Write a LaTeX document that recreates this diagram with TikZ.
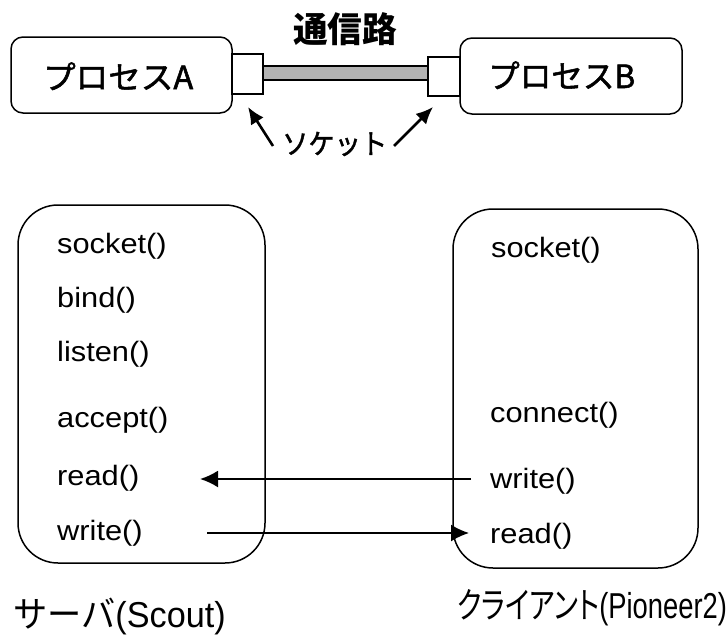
\documentclass[tikz,border=0pt]{standalone}
\usepackage{fontspec}
\usepackage{graphicx}
\usetikzlibrary{arrows.meta}
\setmainfont{Liberation Sans}
\newfontfamily\jp{Noto Sans CJK JP}
\newfontfamily\jpm{Noto Sans CJK JP}[FakeBold=1.6]
\newfontfamily\jpp{Noto Sans CJK JP}[RawFeature=+palt]
\newcommand{\fs}[1]{\scalebox{1.1}[1]{#1}}
\begin{document}
\begin{tikzpicture}[x=1pt,y=-1pt,
  box/.style={draw, line width=1.5pt, rounded corners=12pt, inner sep=0pt},
  bigbox/.style={draw, line width=1.5pt, rounded corners=40pt, inner sep=0pt},
  sock/.style={draw, line width=1.5pt, fill=white, inner sep=0pt},
  chan/.style={draw, line width=1.2pt, fill=black!30, inner sep=0pt},
  fn/.style={anchor=base west, inner sep=0pt, font=\fontsize{28}{28}\selectfont},
  lbl/.style={anchor=base west, inner sep=0pt},
  msg/.style={line width=2.2pt, -{Latex[length=18pt,width=17pt]}},
  ptr/.style={line width=2.6pt, -{Latex[length=17pt,width=15pt]}}]
\useasboundingbox (0,0) rectangle (728,637);

% top row
\node[box, minimum width=221pt, minimum height=76pt] (pa) at (121.5,75) {};
\node[box, minimum width=222pt, minimum height=76pt] (pb) at (571,76) {};
\node[chan, minimum width=165pt, minimum height=14pt] (bar) at (345.5,73) {};
\node[sock, minimum width=31pt, minimum height=40pt] (sa) at (247.5,74) {};
\node[sock, minimum width=32pt, minimum height=39pt] (sb) at (444,76.5) {};

\node[lbl, font=\jpm\fontsize{32}{32}\selectfont] (ta) at (43,89) {\resizebox{150pt}{\height}{プロセスA}};
\node[lbl, font=\jpm\fontsize{32}{32}\selectfont] (tb) at (488,88) {\resizebox{147pt}{\height}{プロセスB}};
\node[lbl, font=\jp\bfseries\fontsize{35}{35}\selectfont] (tc) at (293,42) {\resizebox{104pt}{\height}{通信路}};
\node[lbl, font=\jpm\fontsize{28}{28}\selectfont] (ts) at (282,154) {\resizebox{105pt}{\height}{ソケット}};

\coordinate (p1) at (273,146);
\coordinate (p1e) at (248,107);
\coordinate (p2) at (394,146);
\coordinate (p2e) at (433,107);
\draw[ptr] (p1) -- (p1e);
\draw[ptr] (p2) -- (p2e);

% bottom: server and client
\node[bigbox, minimum width=247pt, minimum height=358pt] (srv) at (141.5,384) {};
\node[bigbox, minimum width=245pt, minimum height=359pt] (cli) at (575.5,388.5) {};

\node[fn] (s1) at (57,253) {\fs{socket()}};
\node[fn] (s2) at (57,307.5) {\fs{bind()}};
\node[fn] (s3) at (57,361) {\fs{listen()}};
\node[fn] (s4) at (57,427) {\fs{accept()}};
\node[fn] (s5) at (57,485.5) {\fs{read()}};
\node[fn] (s6) at (57,540.5) {\fs{write()}};

\node[fn] (c1) at (491,257.5) {\fs{socket()}};
\node[fn] (c2) at (490,422.5) {\fs{connect()}};
\node[fn] (c3) at (490,488) {\fs{write()}};
\node[fn] (c4) at (490,543) {\fs{read()}};

\coordinate (m1s) at (471,479);
\coordinate (m1e) at (200,479);
\coordinate (m2s) at (207,533);
\coordinate (m2e) at (469,533);
\draw[msg] (m1s) -- (m1e);
\draw[msg, line width=1.8pt] (m2s) -- (m2e);

\node[lbl, font=\fontsize{36}{36}\selectfont] (ls) at (13,627) {\scalebox{0.95}[1]{{\jp サーバ}(Scout)}};
\node[lbl, font=\fontsize{36}{36}\selectfont] (lc) at (457,618) {\scalebox{0.76}[1]{{\jpp クライアント}(Pioneer2)}};
\end{tikzpicture}
\end{document}
